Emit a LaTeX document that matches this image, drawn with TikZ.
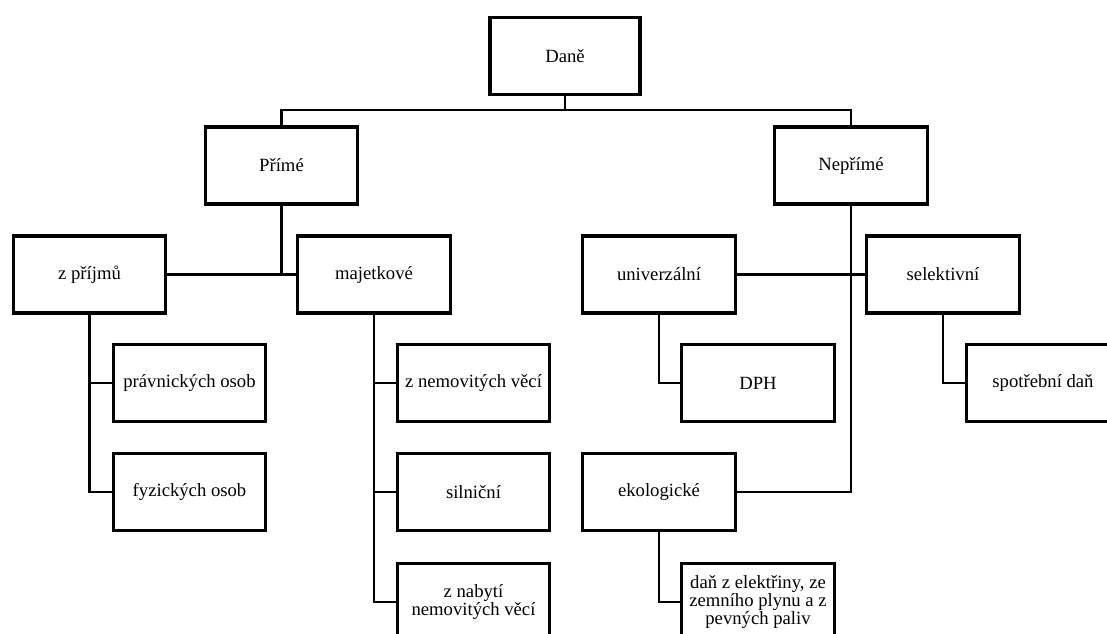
\documentclass[tikz,border=0pt]{standalone}
\usepackage{fontspec}
\setmainfont{Liberation Serif}
\begin{document}
\begin{tikzpicture}[x=0.75pt,y=-0.75pt,
  box/.style={draw=black, line width=2.3pt, fill=white, minimum width=114.5pt, minimum height=57.75pt, inner sep=2pt, align=center, font=\fontsize{14}{13.8}\selectfont},
  conn/.style={draw=black, line width=2.1pt}]
\useasboundingbox (0,0) rectangle (1107,634);
\clip (0,0) rectangle (1107,634);
% nodes
\node[box, minimum width=112.5pt] (dane) at (565,56) {Daně};
\node[box] (prime) at (281.5,165.5) {Přímé};
\node[box] (neprime) at (851,165.5) {Nepřímé};
\node[box] (zprijmu) at (89.5,274.5) {z příjmů};
\node[box] (majetkove) at (374,274.5) {majetkové};
\node[box] (univerzalni) at (659,274.5) {univerzální};
\node[box] (selektivni) at (943,274.5) {selektivní};
\node[box] (pravnickych) at (189.5,383) {právnických osob};
\node[box] (fyzickych) at (189.5,492) {fyzických osob};
\node[box] (znemovitych) at (473.5,383) {z nemovitých věcí};
\node[box] (silnicni) at (473.5,492) {silniční};
\node[box] (znabyti) at (473.5,602) {z nabytí\\nemovitých věcí};
\node[box] (dph) at (758,383) {DPH};
\node[box] (spotrebni) at (1043,383) {spotřební daň};
\node[box] (ekologicke) at (659,492) {ekologické};
\node[box] (danz) at (758,602) {daň z elektřiny, ze\\zemního plynu a z\\pevných paliv};
\coordinate (bus) at (565,110);
% connectors
\draw[conn] (dane.south) -- (bus);
\draw[conn] (bus) -| (prime.north);
\draw[conn] (bus) -| (neprime.north);
\draw[conn] (zprijmu.east) -- (majetkove.west);
\draw[conn] (prime.south) -- (prime.south |- zprijmu.east);
\draw[conn] (univerzalni.east) -- (selektivni.west);
\draw[conn] (neprime.south) |- (ekologicke.east);
\draw[conn] (zprijmu.south) |- (pravnickych.west);
\draw[conn] (zprijmu.south) |- (fyzickych.west);
\draw[conn] (majetkove.south) |- (znemovitych.west);
\draw[conn] (majetkove.south) |- (silnicni.west);
\draw[conn] (majetkove.south) |- (znabyti.west);
\draw[conn] (univerzalni.south) |- (dph.west);
\draw[conn] (selektivni.south) |- (spotrebni.west);
\draw[conn] (ekologicke.south) |- (danz.west);
\end{tikzpicture}
\end{document}
